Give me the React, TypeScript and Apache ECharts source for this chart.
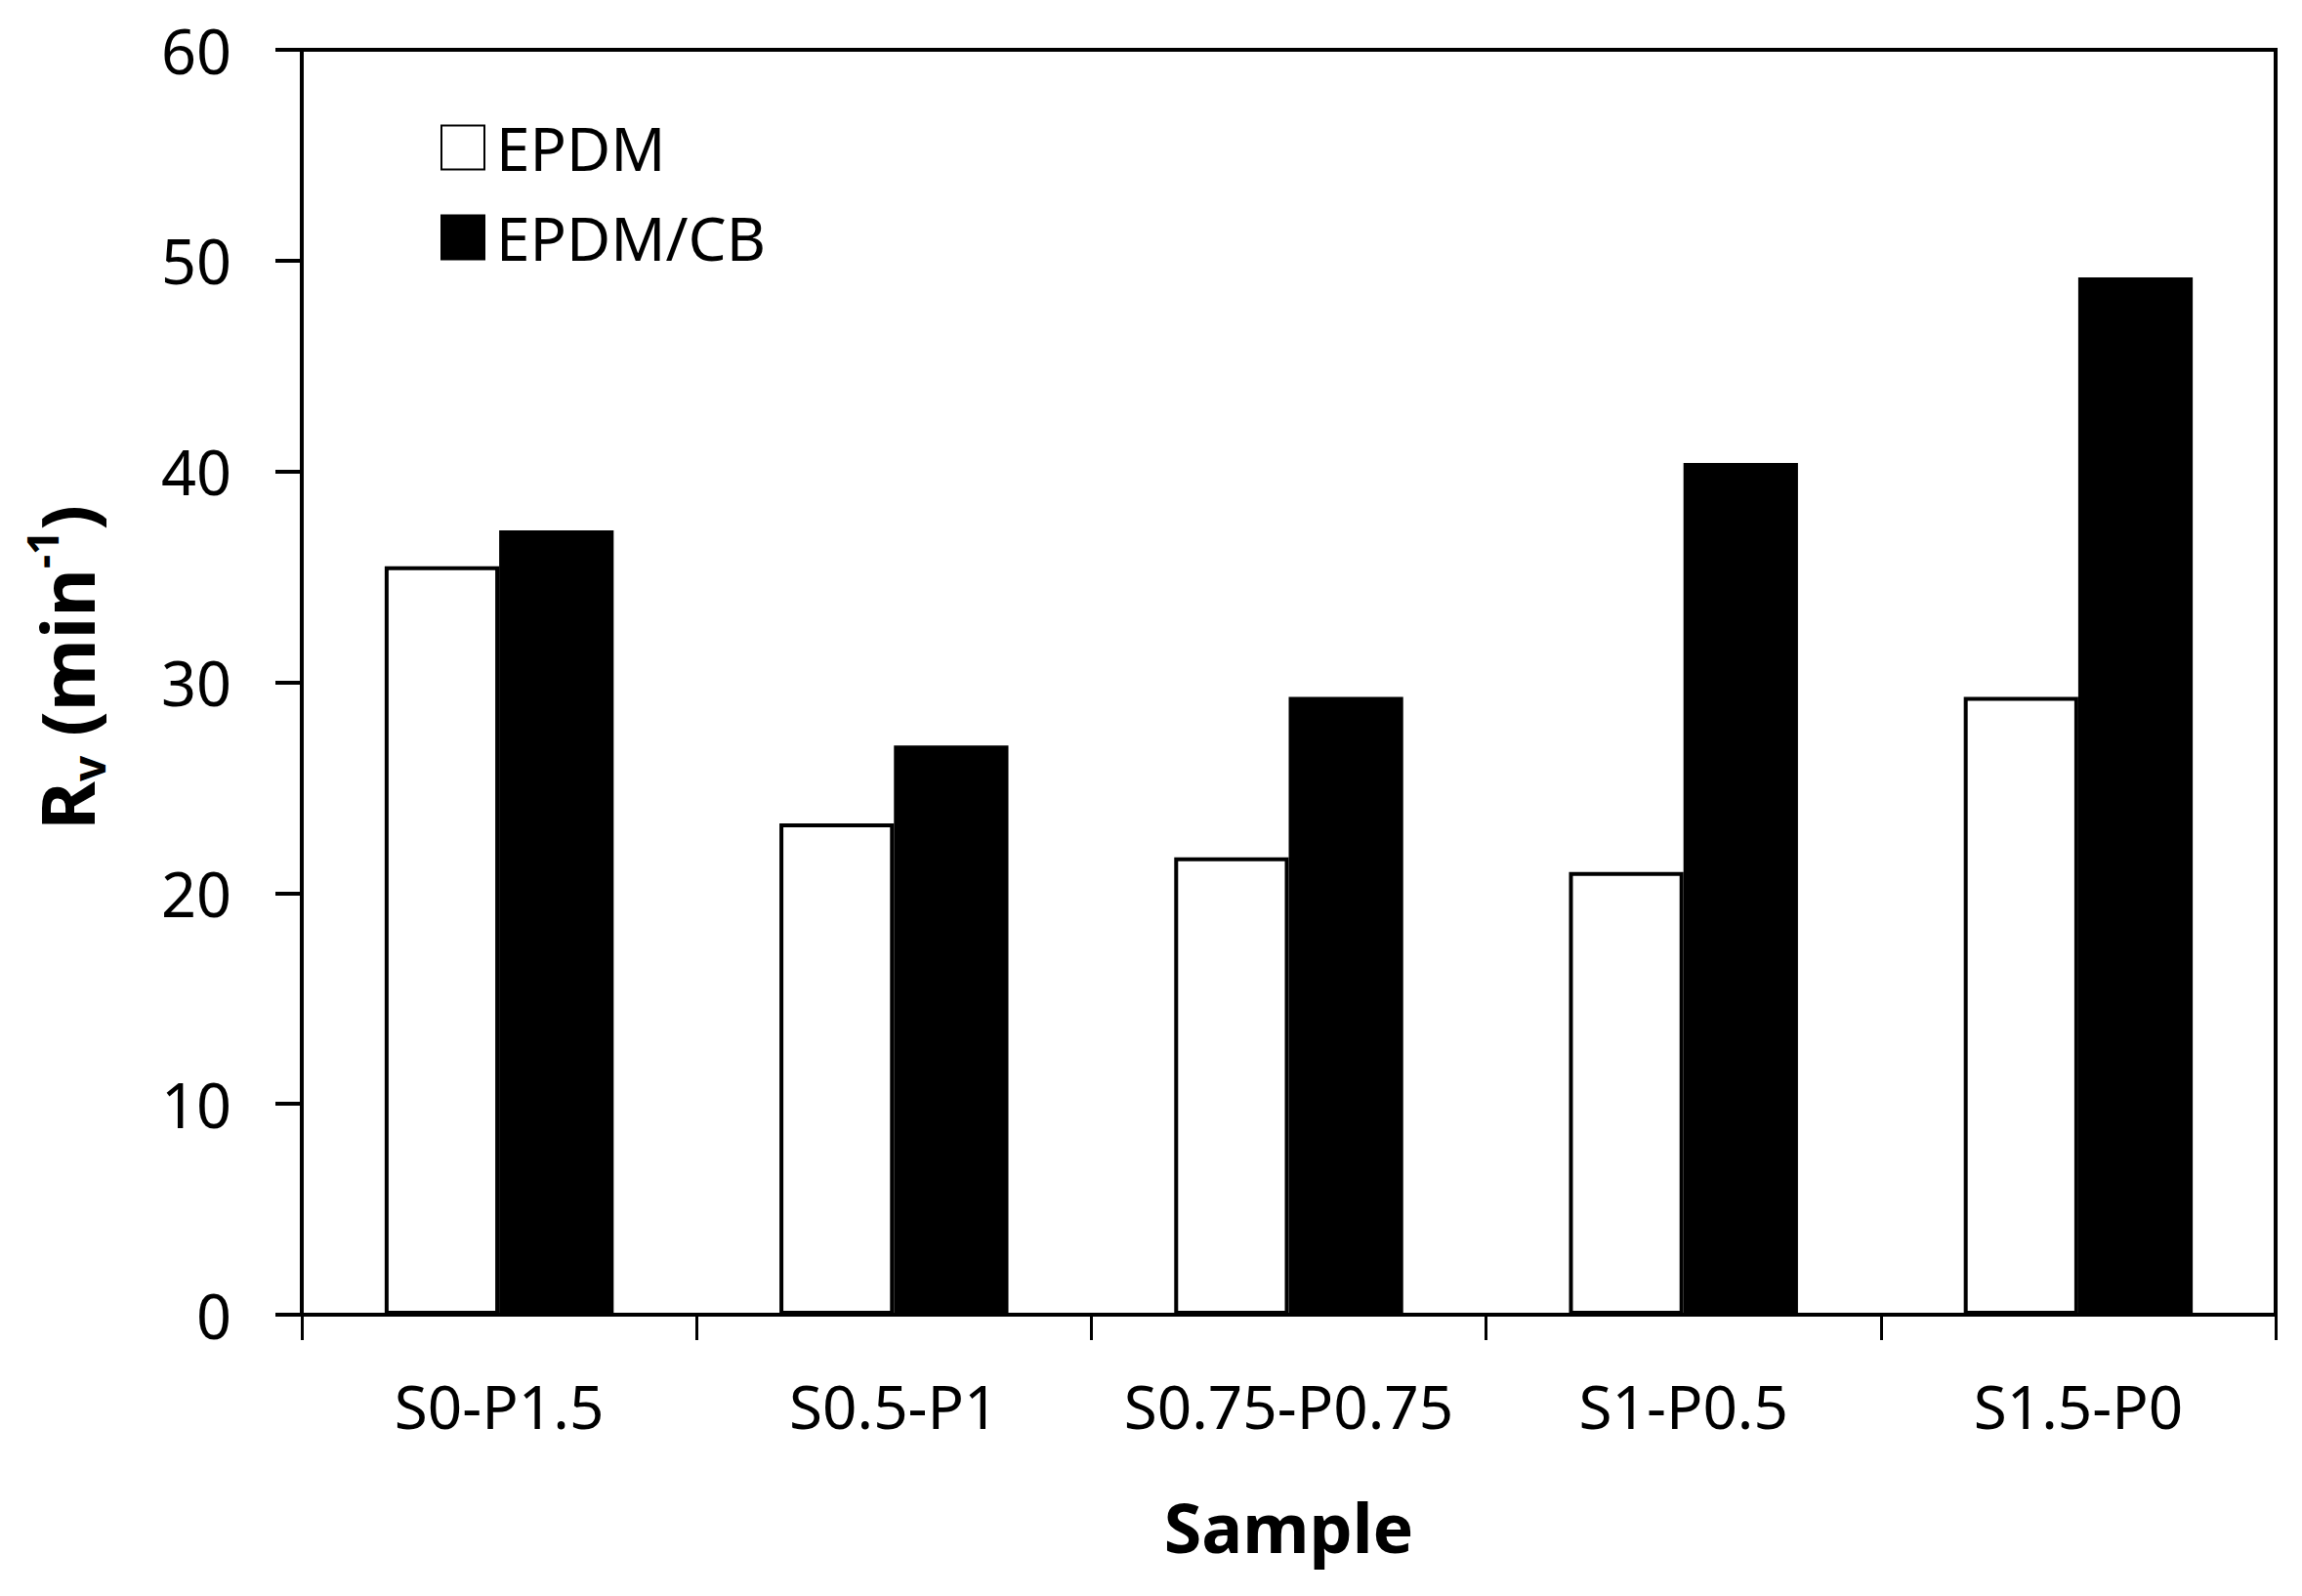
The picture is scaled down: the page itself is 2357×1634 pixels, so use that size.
import { useEffect, useRef } from "react";
import * as echarts from "echarts";

// Values
const categories = ["S0-P1.5", "S0.5-P1", "S0.75-P0.75", "S1-P0.5", "S1.5-P0"];
const epdm = [35.5, 23.3, 21.7, 21.0, 29.3];
const epdmCb = [37.2, 27.0, 29.3, 40.4, 49.2];
const seriesNames = ["EPDM", "EPDM/CB"];
const yMin = 0;
const yMax = 60;
const yStep = 10;

const FONT = "'Noto Sans', 'Open Sans', sans-serif";

export default function App() {
  const chartRef = useRef<HTMLDivElement>(null);

  useEffect(() => {
    if (!chartRef.current) return;
    const chart = echarts.init(chartRef.current, null, { renderer: "svg" });

    chart.setOption({
      animation: false,
      backgroundColor: "#fff",
      grid: {
        show: true,
        left: 309,
        right: 27,
        top: 51,
        bottom: 288,
        borderColor: "#000",
        borderWidth: 4,
        backgroundColor: "transparent",
      },
      legend: {
        orient: "vertical",
        left: 446,
        top: 115,
        icon: "rect",
        itemWidth: 44,
        itemHeight: 45,
        itemGap: 30,
        selectedMode: false,
        textStyle: { fontFamily: FONT, fontSize: 62, color: "#000", padding: [0, 0, 0, 7] },
        data: seriesNames,
      },
      xAxis: {
        type: "category",
        data: categories,
        name: "Sample",
        nameLocation: "middle",
        nameGap: 182,
        nameTextStyle: { fontFamily: FONT, fontSize: 70, fontWeight: "bold", color: "#000" },
        axisLine: { show: true, lineStyle: { color: "#000", width: 4 } },
        axisTick: { show: true, length: 26, lineStyle: { color: "#000", width: 3 } },
        axisLabel: { interval: 0, margin: 62, fontFamily: FONT, fontSize: 62, color: "#000" },
        splitLine: { show: false },
      },
      yAxis: {
        type: "value",
        min: yMin,
        max: yMax,
        interval: yStep,
        name: "{b|R}{sub|v}{b| (min}{sup|-1}{b|)}",
        nameLocation: "middle",
        nameGap: 196,
        nameTextStyle: {
          fontFamily: FONT,
          fontSize: 76,
          fontWeight: "bold",
          color: "#000",
          padding: [0, 0, 0, 30],
          rich: {
            b: { fontFamily: FONT, fontSize: 76, lineHeight: 92, fontWeight: "bold", color: "#000" },
            sub: { fontFamily: FONT, fontSize: 46, lineHeight: 46, fontWeight: "bold", color: "#000", verticalAlign: "bottom" },
            sup: { fontFamily: FONT, fontSize: 44, lineHeight: 44, fontWeight: "bold", color: "#000", verticalAlign: "top" },
          },
        },
        axisLine: { show: true, lineStyle: { color: "#000", width: 4 } },
        axisTick: { show: true, length: 27, lineStyle: { color: "#000", width: 4 } },
        axisLabel: { margin: 72, fontFamily: FONT, fontSize: 63, color: "#000" },
        splitLine: { show: false },
      },
      series: [
        {
          name: seriesNames[0],
          type: "bar",
          data: epdm,
          barWidth: "29%",
          barGap: "0%",
          itemStyle: { color: "#fff", borderColor: "#000", borderWidth: 4 },
        },
        {
          name: seriesNames[1],
          type: "bar",
          data: epdmCb,
          barWidth: "29%",
          barGap: "0%",
          itemStyle: { color: "#000", borderColor: "#000", borderWidth: 4 },
        },
      ],
    });

    return () => {
      chart.dispose();
    };
  }, []);

  return (
    <div
      ref={chartRef}
      style={{ position: "absolute", left: 0, top: 0, width: 2357, height: 1634 }}
    />
  );
}
